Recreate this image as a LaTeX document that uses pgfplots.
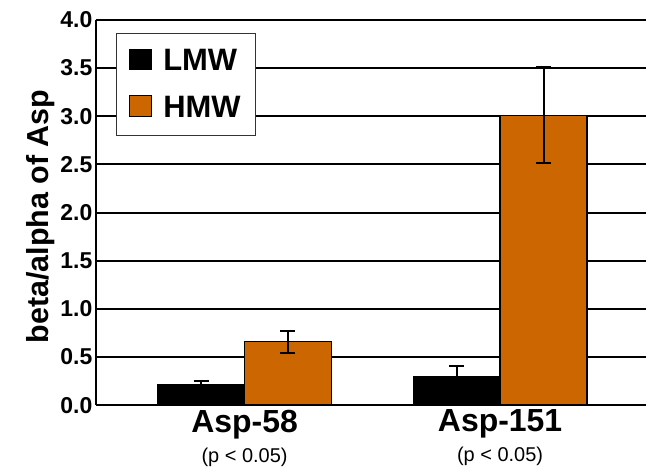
\documentclass[border=0pt]{standalone}
\usepackage{fontspec}
\setmainfont{Liberation Sans}
\usepackage{pgfplots}
\pgfplotsset{compat=1.18}
\definecolor{hmw}{HTML}{CC6600}
\begin{document}
\begin{tikzpicture}
\begin{axis}[
  name=ax,
  scale only axis,
  width=551pt, height=386pt,
  xmin=-0.582, xmax=1.570,
  ymin=0, ymax=4,
  ybar=0pt, bar width=87pt,
  axis x line*=bottom, axis y line*=left,
  axis line style={-, line width=2.5pt},
  ytick={0,0.5,...,4},
  yticklabel style={/pgf/number format/fixed, /pgf/number format/fixed zerofill, /pgf/number format/precision=1, /pgf/number format/assume math mode=true, font=\fontsize{23}{23}\selectfont\bfseries},
  major tick length=0pt,
  ymajorgrids, grid style={black, line width=2pt},
  xtick={0,1},
  xticklabels={{\fontsize{32}{32}\selectfont\bfseries Asp-58\\[8pt]\fontsize{20}{20}\selectfont (p < 0.05)},
               {\fontsize{32}{32}\selectfont\bfseries Asp-151\\[8pt]\fontsize{20}{20}\selectfont (p < 0.05)}},
  xticklabel style={align=center, yshift=-1pt},
  ylabel={beta/alpha of Asp},
  ylabel style={font=\fontsize{30.5}{30.5}\selectfont\bfseries, at={(axis description cs:-0.1,0.49)}, anchor=center},
  legend style={at={(rel axis cs:0.0363,0.966)}, anchor=north west, draw=black!80, line width=1.2pt,
    font=\fontsize{31}{31}\selectfont\bfseries, inner xsep=13pt, inner ysep=14pt, row sep=20pt,
    /tikz/every odd column/.append style={column sep=9pt}},
  legend cell align=left,
  legend image code/.code={\draw[#1, line width=1pt] (0pt,-9pt) rectangle (22pt,12pt);},
  error bars/error bar style={line width=2pt, black},
  error bars/error mark options={rotate=90, mark size=7.5pt, line width=2pt, black},
]
\addplot[fill=black, draw=black, line width=1.5pt,
  error bars/.cd, y dir=both, y explicit]
  coordinates {(0,0.21) +- (0,0.037) (1,0.293) +- (0,0.115)};
\addplot[fill=hmw, draw=black, line width=1.5pt,
  error bars/.cd, y dir=both, y explicit]
  coordinates {(0,0.66) +- (0,0.115) (1,3.01) +- (0,0.497)};
\legend{LMW, HMW}
\end{axis}
\path[use as bounding box] ([xshift=-96pt,yshift=-63pt]ax.south west) rectangle ([yshift=20pt]ax.north east);
\end{tikzpicture}
\end{document}
